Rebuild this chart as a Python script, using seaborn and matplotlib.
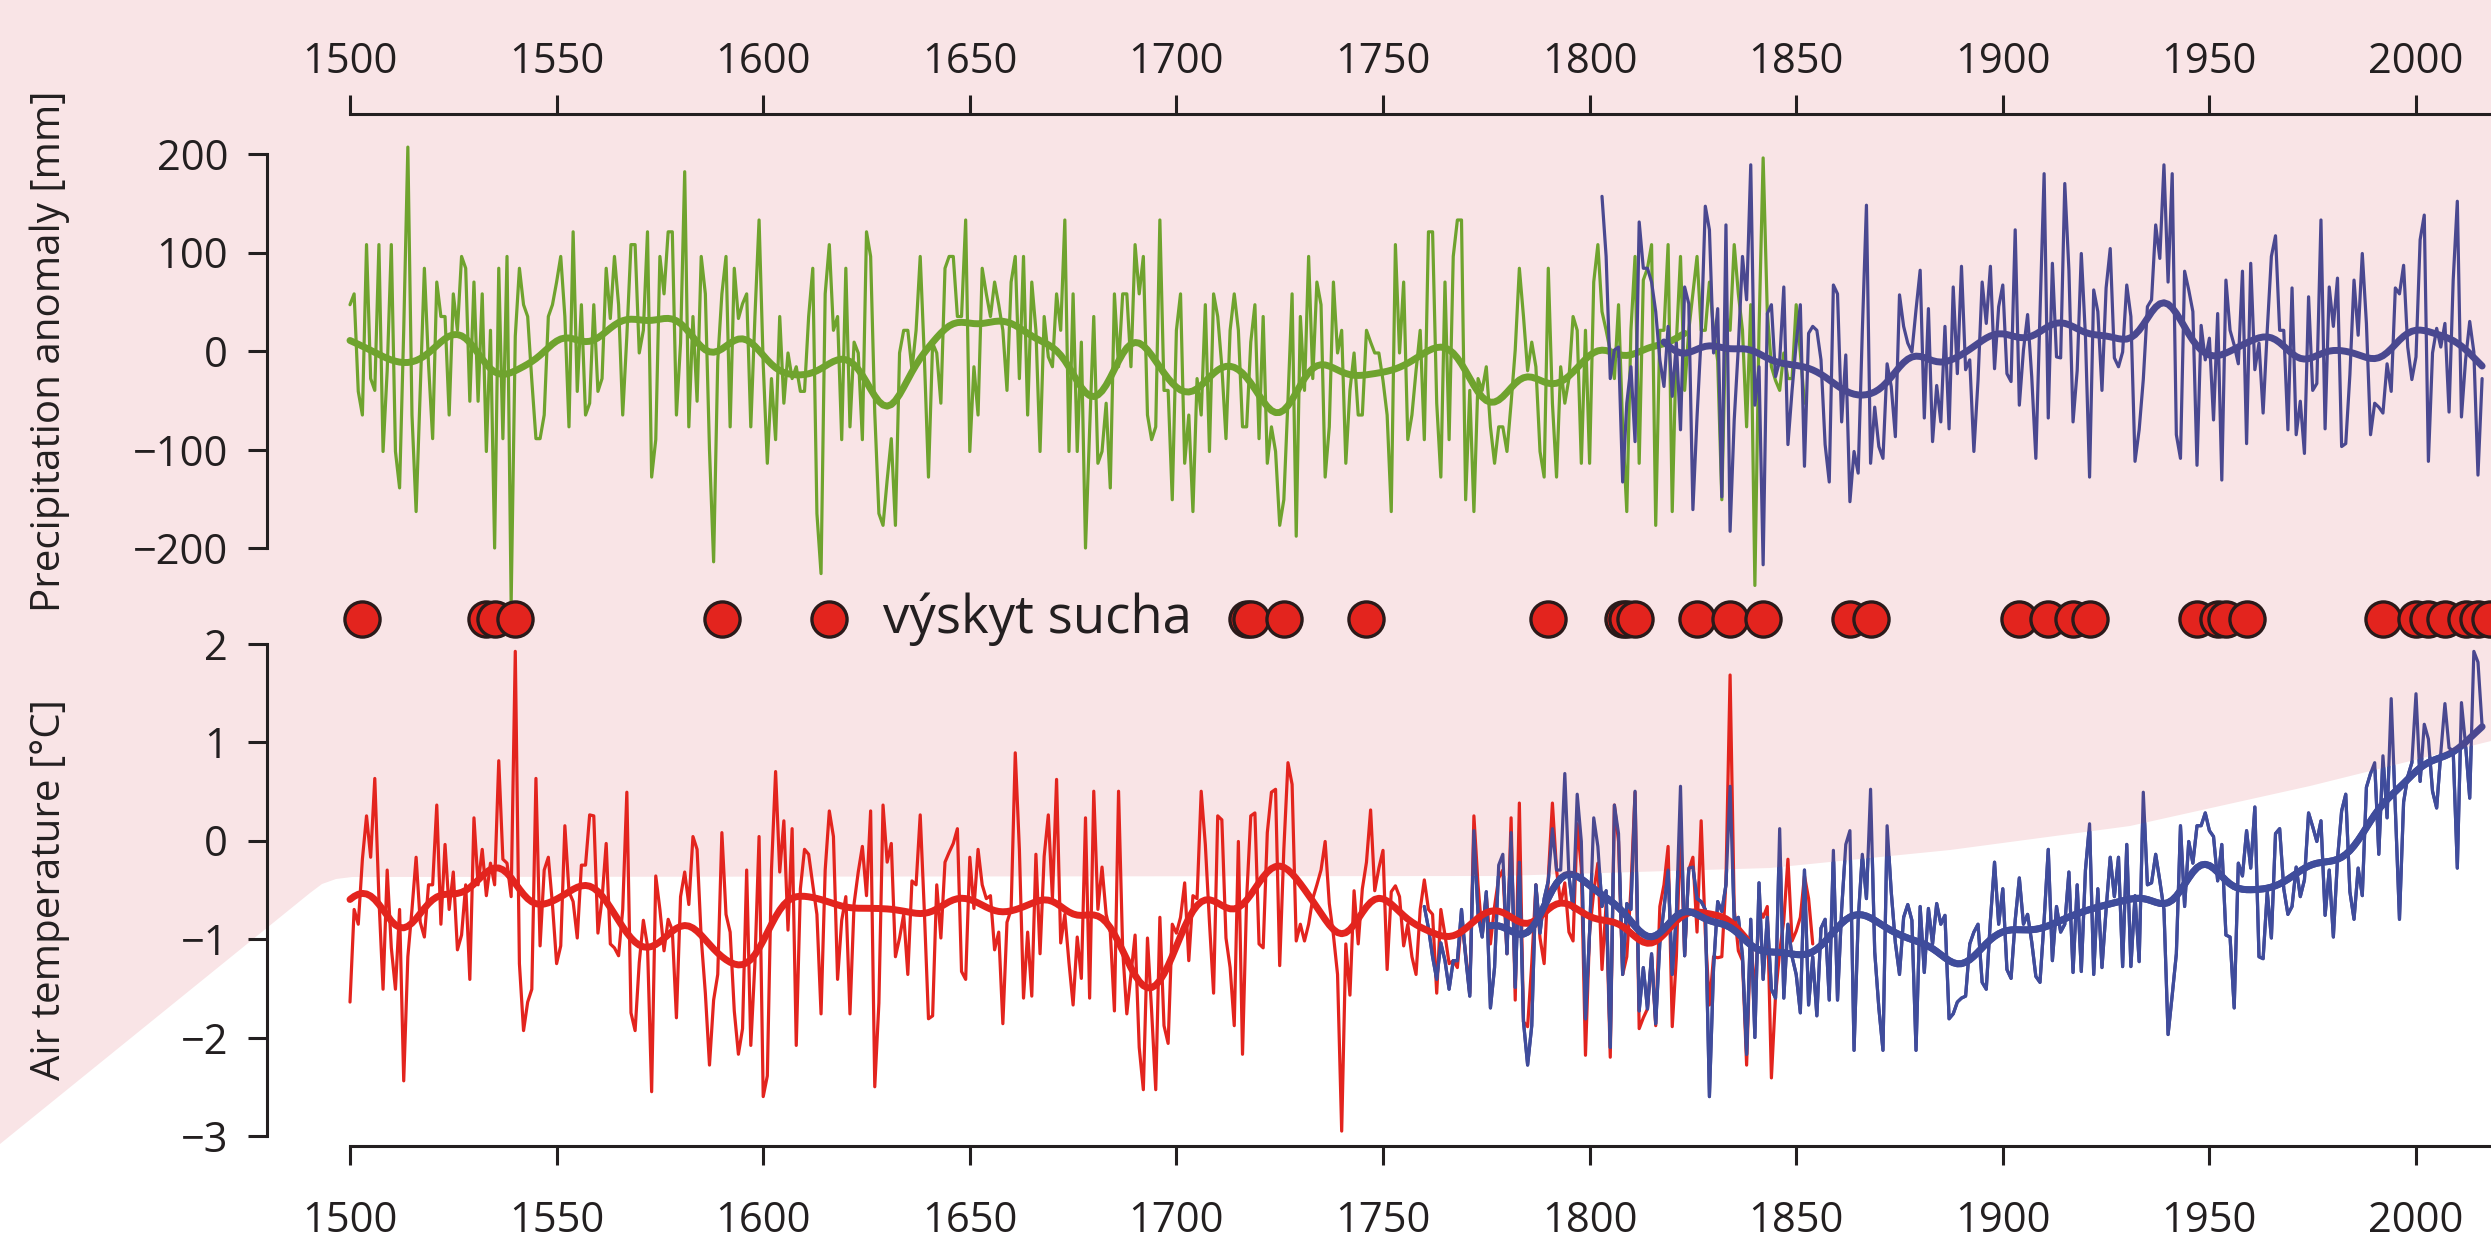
import numpy as np
import pandas as pd
import seaborn as sns
import matplotlib
matplotlib.use("Agg")
from matplotlib import pyplot as plt
from matplotlib.patches import Polygon

# ---- data ----
# precipitation anomaly [mm], reconstruction (green), starts 1500
precip_recon_start = 1500
precip_recon = [
    47, 58, -41, -65, 108, -28, -40, 108, -102, -20,
    108, -102, -139, 21, 207, -65, -163, -40, 84, -13,
    -89, 70, 35, 35, -65, 58, 21, 96, 84, -51,
    70, -51, 58, -102, 21, -200, 84, -89, 96, -256,
    15, 84, 47, 35, -30, -89, -89, -65, 35, 47,
    70, 96, 35, -77, 121, -41, 47, -65, -53, 47,
    -41, -28, 84, 33, 96, 47, -65, 15, 108, 108,
    -2, 21, 121, -128, -90, 96, 58, 121, 121, -65,
    8, 182, -77,
    35, -51, 96, 58, -100, -214, -10, 58, 96, -77,
    84, 33, 48, 58, -77, 35, 133, -13, -114, -28,
    -90, 35, -53, -2, -28, -16, -41, -41, 35, 84,
    -165, -226, 58, 108, 21, 35, -90, 84, -77, 9,
    -2, -90, 121, 96, -63, -165, -177, -131, -89, -177,
    -2, 21, 21, -19, 21, 96, -6, -128, 8, -2,
    -53, 84, 96, 96, 35, 35, 133, -102, -16, -65,
    84, 58, 35, 70, 47, 21, -40, 70, 96, -28,
    96, -65, 70, 21, -102, 35,
    -6, -16, 58, 21, 133, -102, 58, -102, 9, -200,
    -80, 35, -114, -102, -53, -139, 58, -16, 58, 58,
    -16, 108, 58, 96, -65, -90, -77, 133, -40, -40,
    -151, 21, 58, -114, -65, -163, -28, -65, 47, -102,
    58, 35, -16, -89, 21, 58, 21, -77, -77, 9,
    47, -89, 35, -114, -77, -102, -177, -151, -50, 58,
    -188, 35, -40, 96, -28, 70, 47, -128, -77, 70,
    -2, 21, -114, -40, -2, -65, -65, 21, 9, -2,
    -2, -30, -65, -163, 108, -2, 70,
    -90, -65, -20, 21, -90, 121, 121, -53, -128, 70,
    -90, 96, 133, 133, -151, -40, -163, -28, -40, -16,
    -77, -114, -77, -77, -102, -53, 1, 84, 35, -20,
    9, -16, -102, -128, 84, -53, -128, -16, -53, -28,
    35, 21, -114, 21, -114, 70, 108, 40, 21, 0,
    -28, 47, -77, -163, 21, 96, -114, 72, 84, 108,
    -177, 21, 21, 108, -163, 9, 96, -40, 21, 58,
    96, 21, 21, 70, 21, -10, -151, 35, 21, 108,
    58, 21, -77, 47, -238, 21, 196,
    40, -16, -30, -40, -2, -28, -28, 47, -2, -53,
]

# precipitation anomaly [mm], instrumental (blue), starts 1803
precip_obs_start = 1803
precip_obs = [
    157, 96, -28, 1, 4, -133, -53, -16, -92, 131,
    84, 84, 70, 40, -9, -36, 25, -46, 8, -80,
    65, 48, -161, -67, 15, 147, 123, -2, 43, -148,
    128, -183, -70, 4, 96, 52, 189, -55, -16, -217,
    38, 47, -26,
    -10, 65, -95, -40, 8, 47, -117, 18, 25, 21,
    -9, -95, -133, 67, 58, -72, -4, -153, -102, -124,
    20, 148, -114, -57, -97, -109, -13, -36, -87, 57,
    25, 8, -1, 42, 82, -68, 43, -92, -35, -72,
    25, -79, 65, -23, 86, -19, -9, -102, -30, 70,
    28, 86, -18, 45, 67, -23, -31, 123, -55, 1,
    37, -26, -109, 38, 180, -68, 89, -6, -7, 170,
    82, -72, -20, 99, 15, -128, 62, 40, -40, 64,
    104, -7, -16, -1, 67, 35, -112,
    -80, -29, 45, 52, 128, 94, 189, 70, 180, -85,
    -109, 81, 62, 40, -116, 26, -9, 13, -70, 38,
    -131, 72, 21, 6, -13, 81, -94, 89, -19, 8,
    -63, 21, 96, 117, 21, 21, -80, 64, -85, -51,
    -104, 55, -40, -33, 133, -79, 65, 25, 74, -97,
    -94, -24, 72, 16, 99, 28, -85, -53, -57, -63,
    -13, -41, 64, 58, 87, 4, -29, -6, 113, 138,
    -112, -2, 23, 4, 28, -62, 72, 152, -67, -9,
    30, -1, -126, -28,
]

# air temperature anomaly [°C], reconstruction (red), starts 1500
temp_recon_start = 1500
temp_recon = [
    -1.64, -0.70, -0.85, -0.19, 0.25, -0.17, 0.63, -0.59, -1.51, -0.30,
    -1.09, -1.51, -0.70, -2.44, -1.18, -0.70, -0.17, -0.83, -0.98, -0.45,
    -0.45, 0.36, -0.85, -0.04, -0.70, -0.32, -1.11, -0.96, -0.45, -1.41,
    0.23, -0.45, -0.09, -0.56, -0.23, -0.45, 0.81, -0.19, -0.23, -0.57,
    1.92, -1.25, -1.93, -1.64, -1.51, 0.63, -1.07, -0.30, -0.17, -0.65,
    -1.25, -1.07, 0.15, -0.52, -0.62, -0.99, -0.25, -0.25, 0.26, 0.25,
    -0.94, -0.59, -0.03, -1.05, -1.09, -1.17, -0.70, 0.49, -1.75, -1.93,
    -1.24, -0.81, -1.07, -2.55, -0.36, -0.70, -1.12, -0.80, -0.91, -1.80,
    -0.57, -0.32, -0.65, 0.04,
    -0.09, -0.99, -1.55, -2.28, -1.62, -1.36, 0.08, -0.75, -0.93, -1.73,
    -2.17, -1.91, -0.30, -2.08, -1.24, 0.04, -2.60, -2.39, -0.30, 0.70,
    -0.32, 0.20, -0.91, 0.12, -2.08, -0.49, -0.09, -0.14, -0.45, -0.75,
    -1.76, -0.30, 0.30, 0.04, -1.41, -0.81, -0.57, -1.76, -0.64, -0.32,
    -0.06, -0.56, 0.30, -2.50, -1.65, 0.36, -0.22, -0.03, -1.18, -0.99,
    -0.75, -1.36, -0.41, -0.45, 0.26, -0.72, -1.81, -1.78, -0.45, -0.99,
    -0.22, -0.12, -0.03, 0.12, -1.33, -1.41, -0.17, -0.69, -0.09, -0.45,
    -0.59, -0.56, -1.11, -0.93, -1.86, -0.83, -0.70, 0.89, -0.09, -1.60,
    -0.93, -1.58, -0.14, -1.15, -0.16, 0.26, -0.59,
    0.62, -1.04, -0.75, -1.24, -1.67, -0.98, -1.40, 0.23, -1.60, 0.50,
    -0.70, -0.27, -0.75, -0.93, -1.73, 0.50, -1.11, -1.76, -1.36, -0.96,
    -2.10, -2.53, -0.99, -1.73, -2.53, -0.78, -1.88, -2.06, -0.85, -0.94,
    -0.78, -0.43, -1.22, -0.56, -0.59, 0.50, -0.04, -0.83, -1.55, 0.25,
    0.21, -0.99, -1.29, -1.88, -0.01, -2.17, -0.59, 0.25, 0.28, -1.05,
    -1.09, 0.08, 0.49, 0.52, -1.27, -0.09, 0.79, 0.57, -1.02, -0.85,
    -1.02, -0.85, -0.59, -0.45, -0.30, -0.01, -0.64, -0.96, -1.36, -2.95,
    -1.05, -1.57, -0.51, -1.05, -0.49, -0.22, 0.31, -0.51, -0.28, -0.10,
    -1.31, -0.52, -0.46, -0.57, -1.07, -0.85, -1.18,
    -1.36, -0.70, -0.40, -0.70, -0.75, -1.55, -0.70, -0.96, -1.25, -1.22,
    -1.29, -0.81, -1.15, -1.55, 0.25, -0.45, -0.96, -0.56, -1.05, -0.67,
    -0.38, -0.30, -1.15, 0.23, -1.62, 0.38, -1.84, -1.89, -1.25, -0.45,
    -0.99, -1.25, -0.38, 0.38, -0.30, -0.64, -0.43, -0.93, -1.02, 0.17,
    -0.28, -2.18, -0.93, -0.52, -0.23, -1.31, -0.64, -2.20, 0.36, -0.01,
    -1.36, -1.18, -0.49, 0.49, -1.91, -1.80, -1.71, -1.18, -1.88, -0.67,
    -0.45, -0.06, -1.89, -1.18, 0.14, -1.17, -0.30, -0.17, -0.93, 0.20,
    -0.94, -1.67, -1.18, -1.19, -1.18, -0.41, 1.68, -0.70, -1.12, -1.22,
    -2.28, -0.94, -1.62, -0.70, -0.78, -0.67, -2.41,
    -1.57, -1.13, -0.81, -0.19, -1.02, -0.92, -0.78, -0.36, -0.59, -1.05,
]

# air temperature anomaly [°C], instrumental (blue), starts 1760
temp_obs_start = 1760
temp_obs = [
    -0.67, -0.89, -1.18, -1.41, -1.04, -1.22, -1.51, -1.22, -1.22, -0.70,
    -1.18, -1.58, 0.10, -0.75, -0.98, -0.52, -1.70, -1.29, -0.25, -0.14,
    -1.15, 0.08, -1.49, -0.22, -1.84, -2.28, -1.88, -0.45, -0.94, -0.59,
    -0.41, 0.12, -0.30, -0.30, 0.68, -0.36, -0.70, 0.47, -0.01, -1.81,
    -0.93, 0.23, -0.06, -0.67, -0.51, -2.10, 0.36, 0.07, -1.36, -0.64,
    -0.70, 0.50, -1.73, -1.29, -1.71, -1.15, -1.86, -1.04, -0.69, -0.30,
    -1.36, -0.75, 0.55, -1.17, -0.28, -0.27, -0.59, -0.62, -0.70, -2.60,
    -1.29, -0.62, -0.72, -0.45, 0.55, -0.81, -0.78, -1.17, -2.17, -0.80,
    -2.00, -0.43, -1.41, -0.78, -1.51,
    -1.60, 0.12, -1.60, -0.85, -1.18, -1.36, -1.75, -0.30, -1.67, -1.18,
    -1.78, -0.89, -0.80, -1.62, -0.10, -1.62, -0.70, -0.04, 0.10, -2.13,
    -0.81, -0.14, -0.59, 0.52, -1.13, -1.70, -2.13, 0.15, -0.52, -1.04,
    -1.36, -0.78, -0.65, -0.81, -2.13, -0.67, -1.34, -0.69, -1.05, -0.64,
    -0.85, -0.76, -1.81, -1.76, -1.64, -1.60, -1.58, -1.05, -0.93, -0.85,
    -1.44, -1.51, -0.81, -0.22, -0.85, -0.49, -1.31, -1.40, -0.81, -0.38,
    -0.85, -0.75, -1.03, -1.38, -1.44, -0.81, -0.09, -1.22, -0.67, -0.93,
    -0.85, -0.32, -1.34, -0.45, -1.33, -0.30, 0.17, -1.36, -0.49, -1.29,
    -0.70, -0.17, -0.57, -0.17, -1.28, -0.04, -1.28, -0.56,
    -1.23, 0.49, -0.45, -0.43, -0.14, -0.41, -0.70, -1.97, -1.57, -1.15,
    0.15, -0.67, -0.01, -0.23, 0.15, 0.15, 0.28, 0.10, 0.04, -0.41,
    -0.04, -0.96, -0.98, -1.70, -0.23, -0.36, 0.10, -0.28, 0.34, -1.18,
    -1.20, -0.52, -0.99, 0.07, 0.12, -0.49, -0.75, -0.67, -0.27, -0.57,
    -0.40, 0.28, 0.14, -0.01, 0.20, -0.76, -0.30, -0.98, -0.19, 0.30,
    0.47, -0.52, -0.80, -0.28, -0.56, 0.54, 0.68, 0.79, -0.14, 0.86,
    0.23, 1.44, 0.33, -0.80, 0.39, 0.65, 0.79, 1.49, 0.60, 1.18,
    1.03, 0.50, 0.33, 0.89, 1.39, 0.94, 0.91, -0.28, 1.40, 0.97,
    0.43, 1.92, 1.81, 1.16,
]

# years with drought ("výskyt sucha")
drought_years = [1503, 1533, 1535, 1540, 1590, 1616, 1717, 1718, 1726, 1746,
                 1790, 1808, 1809, 1811, 1826, 1834, 1842, 1863, 1868, 1904,
                 1911, 1917, 1921, 1947, 1952, 1954, 1959, 1992, 2000, 2003,
                 2007, 2012, 2015, 2018]

# span over which each smoothed curve is shown
smooth_span = {
    "precip_recon": (1500, 1823),
    "precip_obs": (1818, 2016),
    "temp_recon": (1500, 1838),
    "temp_obs": (1776, 2016),
}

xticks = list(range(1500, 2001, 50))
precip_ticks = [-200, -100, 0, 100, 200]
temp_ticks = [-3, -2, -1, 0, 1, 2]


def to_frame(start, values, key):
    years = np.arange(start, start + len(values))
    vals = np.asarray(values, dtype=float)
    # gaussian low-pass (roughly a 25-30 year window)
    sigma = 4.5
    d = years[:, None] - years[None, :]
    w = np.exp(-0.5 * (d / sigma) ** 2)
    sm = w @ vals / w.sum(axis=1)
    df = pd.DataFrame({"year": years, "value": vals, "smooth": sm})
    lo, hi = smooth_span[key]
    df["smooth"] = df["smooth"].where((df["year"] >= lo) & (df["year"] <= hi))
    return df


df_p_recon = to_frame(precip_recon_start, precip_recon, "precip_recon")
df_p_obs = to_frame(precip_obs_start, precip_obs, "precip_obs")
df_t_recon = to_frame(temp_recon_start, temp_recon, "temp_recon")
df_t_obs = to_frame(temp_obs_start, temp_obs, "temp_obs")
df_drought = pd.DataFrame({"year": drought_years, "y": -272.0})

# ---- style ----
sns.set_theme(style="white")
plt.rcParams["font.family"] = ["Open Sans", "DejaVu Sans"]
ink = "#231f20"
pink = "#f9e4e6"
green = "#6fa32e"
blue_p = "#4a4890"     # blue as it looks over the pink band
blue_t = "#3f4c9c"     # blue over white
red = "#e3241e"

W, H = 2491, 1240
fig = plt.figure(figsize=(W / 100, H / 100), dpi=100, facecolor=pink)

# white lower-left area of the background
bg = [(0, 1144), (310, 893), (322, 884), (336, 879), (352, 877), (1500, 876),
      (1770, 868), (1950, 850), (2130, 826), (2310, 786), (2491, 741),
      (2491, 1240), (0, 1240)]
white_area = Polygon([(x / W, 1 - y / H) for x, y in bg], closed=True,
                     transform=fig.transFigure, facecolor="white",
                     edgecolor="none", zorder=0)
fig.add_artist(white_area)

x_left = 267
px_per_year = (2416 - 350) / 500.0
xlim = (1500 - (350 - x_left) / px_per_year, 2000 + (W - 2416) / px_per_year)


def make_axes(top_px, bottom_px):
    return fig.add_axes([x_left / W, 1 - bottom_px / H,
                         (W - x_left) / W, (bottom_px - top_px) / H])


# precipitation panel: 0 mm at y=351 px, 98.5 px per 100 mm
ax1 = make_axes(114, 640)
ax1.set_xlim(*xlim)
ax1.set_ylim((351 - 640) / 0.985, (351 - 114) / 0.985)
# temperature panel: 0 °C at y=840.5 px, 98.5 px per °C
ax2 = make_axes(615, 1146)
ax2.set_xlim(*xlim)
ax2.set_ylim((840.5 - 1146) / 98.5, (840.5 - 615) / 98.5)

for ax in (ax1, ax2):
    ax.set_facecolor("none")
    ax.patch.set_visible(False)

thin, thick = 2.3, 5.0
sns.lineplot(data=df_p_recon, x="year", y="value", color=green, lw=thin, ax=ax1, clip_on=False)
sns.lineplot(data=df_p_recon, x="year", y="smooth", color=green, lw=thick, ax=ax1)
sns.lineplot(data=df_p_obs, x="year", y="value", color=blue_p, lw=thin, ax=ax1)
sns.lineplot(data=df_p_obs, x="year", y="smooth", color=blue_p, lw=thick, ax=ax1)


def blue_over_white(col, lw):
    # purple-ish tone everywhere, then the clean blue only inside the white area
    sns.lineplot(data=df_t_obs, x="year", y=col, color=blue_p, lw=lw, ax=ax2)
    n = len(ax2.lines)
    sns.lineplot(data=df_t_obs, x="year", y=col, color=blue_t, lw=lw, ax=ax2)
    for ln in ax2.lines[n:]:
        ln.set_clip_path(white_area)


sns.lineplot(data=df_t_recon, x="year", y="value", color=red, lw=thin, ax=ax2)
blue_over_white("value", thin)
sns.lineplot(data=df_t_recon, x="year", y="smooth", color=red, lw=thick, ax=ax2)
blue_over_white("smooth", thick)

sns.scatterplot(data=df_drought, x="year", y="y", ax=ax1, s=640, color=red,
                edgecolor="#2a1a1a", linewidth=2.4, zorder=5, clip_on=False)
ax1.text(1629, -272, "výskyt sucha", fontsize=38, color=ink, ha="left", va="center")

# axes decoration
tick_kw = dict(length=14, width=2.2, color=ink, labelcolor=ink, labelsize=30)
for ax in (ax1, ax2):
    ax.set_xlabel("")
    ax.set_ylabel("")
    ax.set_xticks(xticks)
    ax.set_xticklabels([str(t) for t in xticks])
    for s in ("right", "top", "bottom", "left"):
        ax.spines[s].set_visible(False)
    ax.spines["left"].set_visible(True)
    ax.spines["left"].set_color(ink)
    ax.spines["left"].set_linewidth(2.2)

ax1.xaxis.tick_top()
ax1.spines["top"].set_visible(True)
ax1.spines["top"].set_bounds(1500, xlim[1])
ax1.spines["top"].set_color(ink)
ax1.spines["top"].set_linewidth(2.2)
ax1.set_yticks(precip_ticks)
ax1.set_yticklabels(["\u2212200", "\u2212100", "0", "100", "200"])
ax1.spines["left"].set_bounds(-200, 200)
ax1.tick_params(axis="x", which="both", top=True, bottom=False, pad=8, **tick_kw)
ax1.tick_params(axis="y", left=True, pad=14, **tick_kw)

ax2.spines["bottom"].set_visible(True)
ax2.spines["bottom"].set_bounds(1500, xlim[1])
ax2.spines["bottom"].set_color(ink)
ax2.spines["bottom"].set_linewidth(2.2)
ax2.set_yticks(temp_ticks)
ax2.set_yticklabels(["\u22123", "\u22122", "\u22121", "0", "1", "2"])
ax2.spines["left"].set_bounds(-3, 2)
ax2.tick_params(axis="x", bottom=True, top=False, pad=25, **tick_kw)
ax2.tick_params(axis="y", left=True, pad=14, **tick_kw)

fig.text(50 / W, 1 - 351 / H, "Precipitation anomaly [mm]", rotation=90,
         ha="center", va="center", fontsize=29, color=ink)
fig.text(50 / W, 1 - 890 / H, "Air temperature [°C]", rotation=90,
         ha="center", va="center", fontsize=29, color=ink)

fig.savefig("out.png", dpi=100, facecolor=fig.get_facecolor())
